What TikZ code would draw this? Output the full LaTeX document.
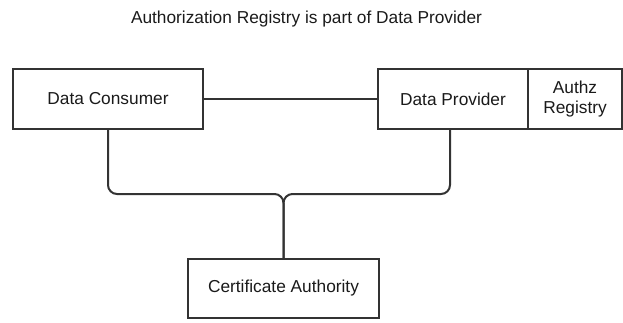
\documentclass[tikz,border=0pt]{standalone}
\usepackage{fontspec}
\setmainfont{Liberation Sans}
\definecolor{linegray}{HTML}{333333}
\definecolor{textgray}{HTML}{1A1A1A}
\begin{document}
\begin{tikzpicture}[x=1pt,y=-1pt,
  lbl/.style={font=\fontsize{17.3}{20}\selectfont, text=textgray},
  box/.style={lbl, draw=linegray, line width=2pt, fill=white, inner sep=0pt, minimum height=60pt, align=center},
  wire/.style={draw=linegray, line width=2pt, rounded corners=9pt}]
\useasboundingbox (0,0) rectangle (623,322);

% heading
\node[lbl, anchor=base] (title) at (306.5,23) {Authorization Registry is part of Data Provider};

% parties
\node[box, minimum width=190pt] (dc) at (108,99) {Data Consumer};
\node[box, minimum width=150pt] (dp) at (453,99) {Data Provider};
\node[box, minimum width=94pt] (az) at (575,99) {Authz\\Registry};
\node[box, minimum width=191pt, minimum height=59pt] (ca) at (283.5,288.5) {Certificate Authority};

% links
\coordinate (j) at (283.5,194);
\draw[wire] (dc) -- (dp);
\draw[wire] (dc.south) |- (j) -- (ca.north);
\draw[wire] ([xshift=-3pt]dp.south) |- (j) -- (ca.north);
\end{tikzpicture}
\end{document}
